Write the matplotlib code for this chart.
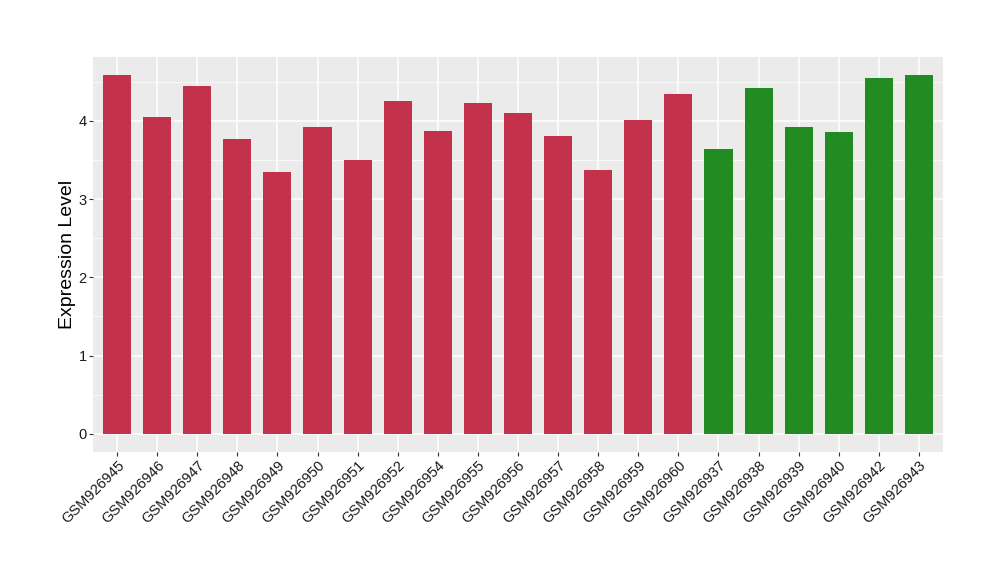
import matplotlib
matplotlib.use("Agg")
import matplotlib.pyplot as plt
from matplotlib.ticker import MultipleLocator

plt.rcParams['font.family'] = ['Liberation Sans', 'DejaVu Sans']

samples = ["GSM926945", "GSM926946", "GSM926947", "GSM926948", "GSM926949",
           "GSM926950", "GSM926951", "GSM926952", "GSM926954", "GSM926955",
           "GSM926956", "GSM926957", "GSM926958", "GSM926959", "GSM926960",
           "GSM926937", "GSM926938", "GSM926939", "GSM926940", "GSM926942",
           "GSM926943"]
values = [4.580, 4.051, 4.448, 3.770, 3.348, 3.923, 3.500, 4.256, 3.872, 4.230,
          4.103, 3.808, 3.373, 4.013, 4.346, 3.640, 4.423, 3.923, 3.859, 4.551,
          4.589]
groups = ["red"] * 15 + ["green"] * 6
group_colors = {"red": "#C3324A", "green": "#228B22"}

fig = plt.figure(figsize=(10, 5.8), dpi=100)
ax = fig.add_axes([0.093, 0.2212, 0.850, 0.681])
ax.set_facecolor("#EBEBEB")

x = list(range(len(samples)))
ax.bar(x, values, width=0.7, color=[group_colors[g] for g in groups], zorder=3)

ymax = max(values)
ax.set_xlim(-0.6, len(samples) - 1 + 0.6)
ax.set_ylim(-0.05 * ymax, ymax * 1.05)

ax.yaxis.set_major_locator(MultipleLocator(1))
ax.yaxis.set_minor_locator(MultipleLocator(0.5))
ax.set_xticks(x)
ax.set_xticklabels(samples, rotation=45, ha="right", rotation_mode="anchor",
                   fontsize=10.5, color="#1A1A1A")
ax.tick_params(axis="y", labelsize=10.5, labelcolor="#1A1A1A")
ax.tick_params(axis="both", which="major", length=3, width=0.8, color="#333333", pad=1.5)
ax.tick_params(axis="y", which="minor", length=0)

ax.grid(which="major", axis="both", color="white", linewidth=1.1, zorder=0)
ax.grid(which="minor", axis="y", color="white", linewidth=0.5, zorder=0)
ax.set_axisbelow(True)
for s in ax.spines.values():
    s.set_visible(False)

ax.set_ylabel("Expression Level", fontsize=14, color="black", labelpad=2)

fig.savefig("out.png", dpi=100)
